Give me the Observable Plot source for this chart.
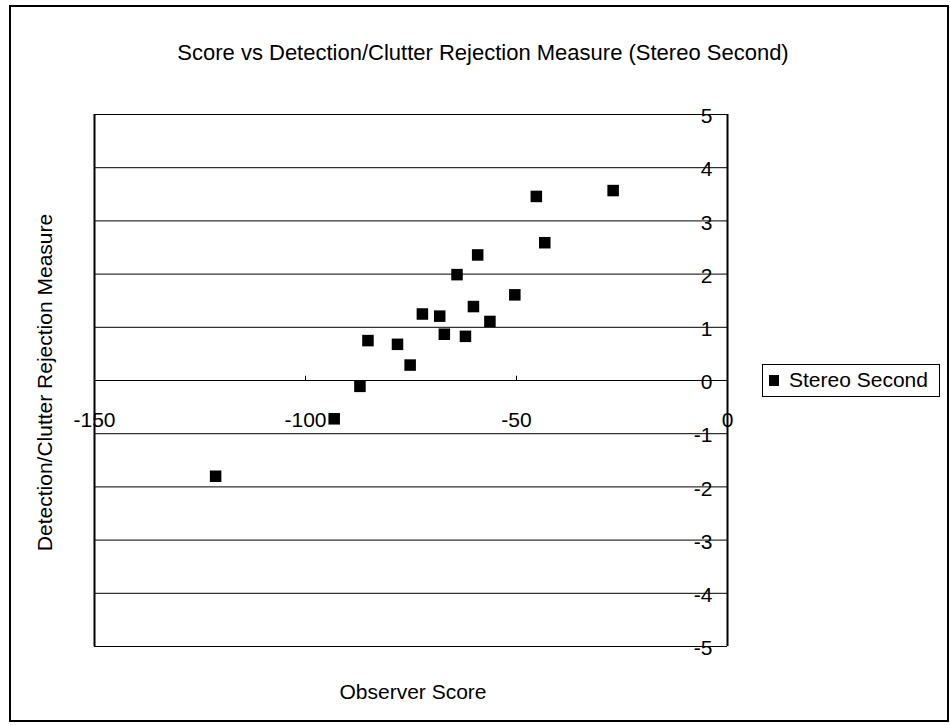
<!DOCTYPE html>
<html>
<head>
<meta charset="utf-8">
<script src="https://cdn.jsdelivr.net/npm/d3@7"></script>
<script src="https://cdn.jsdelivr.net/npm/@observablehq/plot@0.6"></script>
<style>
  html, body { margin: 0; padding: 0; background: #fff; }
  #wrap { position: relative; width: 950px; height: 725px; overflow: hidden; font-family: "Liberation Sans", Arial, sans-serif; }
  #frame { position: absolute; left: 9px; top: 5px; width: 936px; height: 713px; border: 2px solid #000; pointer-events: none; }
  #legend { position: absolute; left: 762px; top: 364px; width: 176px; height: 31px; border: 1px solid #000; background: #fff; }
  #legend .sw { position: absolute; left: 6px; top: 10px; width: 10px; height: 11px; background: #000; }
  #legend .lb { position: absolute; left: 26px; top: 3px; font-size: 21px; line-height: 24px; color: #000; white-space: nowrap; }
</style>
</head>
<body>
<div id="wrap">
  <div id="chart"></div>
  <div id="frame"></div>
  <div id="legend"><div class="sw"></div><div class="lb">Stereo Second</div></div>
</div>
<script>
const seriesName = "Stereo Second";
const observerScore = [-45.3, -27.1, -43.3, -59.2, -64.1, -50.4, -60.2, -72.3, -68.2, -56.3, -67.1, -62.1, -85.2, -78.2, -75.2, -87.1, -93.2, -121.3];
const measure =       [3.46, 3.57, 2.59, 2.36, 1.99, 1.61, 1.39, 1.25, 1.21, 1.11, 0.87, 0.83, 0.75, 0.68, 0.29, -0.11, -0.72, -1.80];
const xTicks = [-150, -100, -50, 0];
const yTicks = [-5, -4, -3, -2, -1, 0, 1, 2, 3, 4, 5];
const titleText = "Score vs Detection/Clutter Rejection Measure (Stereo Second)";
const xTitle = "Observer Score";
const yTitle = "Detection/Clutter Rejection Measure";

const data = observerScore.map((x, i) => ({x, y: measure[i]}));
const font = "Liberation Sans, Arial, sans-serif";
const fs = 21;

const chart = Plot.plot({
  width: 950,
  height: 725,
  marginLeft: 94,
  marginRight: 223,
  marginTop: 114,
  marginBottom: 79,
  style: {fontFamily: font, background: "white", color: "black"},
  x: {domain: [-150, 0], axis: null},
  y: {domain: [-5, 5], axis: null},
  marks: [
    Plot.ruleY(yTicks, {y: d => d, stroke: "black", strokeWidth: 1, strokeOpacity: 1}),
    Plot.ruleX([-150], {y1: -5, y2: 5, stroke: "black", strokeWidth: 2}),
    Plot.ruleX([0], {y1: -5, y2: 5, stroke: "black", strokeWidth: 2}),
    Plot.ruleX(xTicks.slice(1, 3), {x: d => d, y1: 0, y2: 0.08, stroke: "black", strokeWidth: 1}),
    Plot.text(xTicks, {x: d => d, y: 0, dy: 40, text: d => String(d), fontSize: fs, fill: "black", textAnchor: "middle", lineAnchor: "middle"}),
    Plot.text(yTicks, {x: 0, y: d => d, dx: -15, dy: 2, text: d => String(d), fontSize: fs, fill: "black", textAnchor: "end", lineAnchor: "middle"}),
    Plot.dot(data, {x: "x", y: "y", symbol: "square", r: 6.5, fill: "black", stroke: null}),
    Plot.text([titleText], {frameAnchor: "top", dx: 72, dy: -62, text: d => d, fontSize: 22, fill: "black", textAnchor: "middle", lineAnchor: "middle"}),
    Plot.text([xTitle], {frameAnchor: "bottom", dx: 2, dy: 46, text: d => d, fontSize: fs, fill: "black", textAnchor: "middle", lineAnchor: "middle"}),
    Plot.text([yTitle], {frameAnchor: "left", dx: -49, dy: 2, rotate: -90, text: d => d, fontSize: fs, fill: "black", textAnchor: "middle", lineAnchor: "middle"})
  ]
});
document.getElementById("chart").appendChild(chart);
</script>
</body>
</html>
